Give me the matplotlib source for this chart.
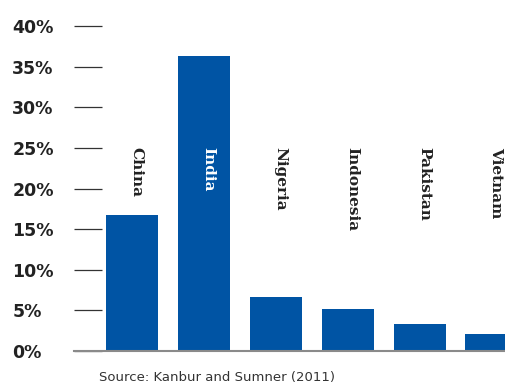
import matplotlib
matplotlib.use("Agg")
import matplotlib.pyplot as plt

countries = ["China", "India", "Nigeria", "Indonesia", "Pakistan", "Vietnam"]
shares = [16.7, 36.3, 6.6, 5.2, 3.3, 2.1]
yticks = [0, 5, 10, 15, 20, 25, 30, 35, 40]
ytick_labels = [f"{t}%" for t in yticks]

BLUE = "#0054a4"
INK = "#222222"

fig = plt.figure(figsize=(5.05, 3.85), dpi=100)
W, H = 505, 385
ax = fig.add_axes([74 / W, (H - 351) / H, (W - 74) / W, (351 - 26) / H])

xs = list(range(len(countries)))
ax.bar(xs, shares, width=0.723, color=BLUE, zorder=2)

# country names run down the column, India's sits on its own bar
for x, name, v in zip(xs, countries, shares):
    col = "white" if v > 25 else INK
    ax.text(x + 0.06, 25.1, name, rotation=-90, ha="center", va="top",
            fontsize=11, fontweight="bold", family=["DejaVu Serif"], color=col, zorder=3)

ax.set_xlim(-0.807, 5.188)
ax.set_ylim(0, 40)
ax.set_xticks([])
ax.set_yticks(yticks)
ax.set_yticklabels(ytick_labels, ha="left", fontsize=12.5, fontweight="bold", color=INK)
ax.tick_params(axis="y", direction="in", length=20, width=0.9, color="#333333", pad=44.5)

for s in ("top", "right", "left"):
    ax.spines[s].set_visible(False)
ax.spines["bottom"].set_color("#8a8a8a")
ax.spines["bottom"].set_linewidth(1.5)
ax.spines["bottom"].set_zorder(4)

fig.text(99 / W, 1 - 377 / H, "Source: Kanbur and Sumner (2011)", fontsize=9.5,
         color="#333333", va="center", ha="left")

fig.savefig("out.png", dpi=100)
